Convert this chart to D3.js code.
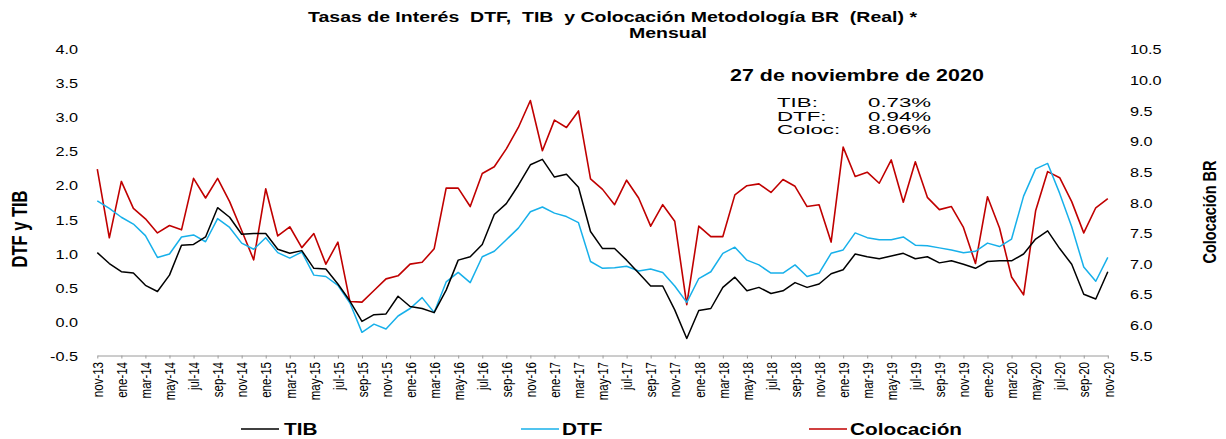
<!DOCTYPE html>
<html>
<head>
<meta charset="utf-8">
<script src="https://cdn.jsdelivr.net/npm/d3@7/dist/d3.min.js"></script>
<style>
  html, body { margin: 0; padding: 0; background: #fff; }
  svg { display: block; }
  text { font-family: "Liberation Sans", Arial, sans-serif; fill: #000; white-space: pre; }
</style>
</head>
<body>
<svg id="chart" width="1226" height="439"></svg>
<script>
// ---------- DATA ----------
const categories = [
  "nov-13","dic-13",
  "ene-14","feb-14","mar-14","abr-14","may-14","jun-14","jul-14","ago-14","sep-14","oct-14","nov-14","dic-14",
  "ene-15","feb-15","mar-15","abr-15","may-15","jun-15","jul-15","ago-15","sep-15","oct-15","nov-15","dic-15",
  "ene-16","feb-16","mar-16","abr-16","may-16","jun-16","jul-16","ago-16","sep-16","oct-16","nov-16","dic-16",
  "ene-17","feb-17","mar-17","abr-17","may-17","jun-17","jul-17","ago-17","sep-17","oct-17","nov-17","dic-17",
  "ene-18","feb-18","mar-18","abr-18","may-18","jun-18","jul-18","ago-18","sep-18","oct-18","nov-18","dic-18",
  "ene-19","feb-19","mar-19","abr-19","may-19","jun-19","jul-19","ago-19","sep-19","oct-19","nov-19","dic-19",
  "ene-20","feb-20","mar-20","abr-20","may-20","jun-20","jul-20","ago-20","sep-20","oct-20","nov-20"
];

const tib = [
  1.01,0.85,0.73,0.71,0.53,0.44,0.68,1.12,1.13,1.24,1.67,1.53,1.28,1.29,1.29,1.06,1.00,1.04,0.78,0.77,
  0.55,0.30,0.00,0.10,0.11,0.37,0.22,0.19,0.13,0.46,0.90,0.95,1.13,1.57,1.73,2.00,2.30,2.38,2.12,2.16,
  1.97,1.32,1.07,1.07,0.90,0.71,0.52,0.52,0.17,-0.25,0.16,0.19,0.50,0.65,0.45,0.50,0.41,0.45,0.57,0.50,
  0.55,0.70,0.76,0.99,0.95,0.92,0.96,1.00,0.92,0.95,0.86,0.89,0.84,0.78,0.88,0.89,0.89,0.99,1.21,1.33,
  1.07,0.84,0.40,0.33,0.73
];

const dtf = [
  1.77,1.66,1.53,1.43,1.26,0.94,0.99,1.24,1.27,1.17,1.51,1.38,1.15,1.06,1.23,1.01,0.93,1.02,0.68,0.66,
  0.53,0.27,-0.16,-0.04,-0.11,0.08,0.19,0.35,0.13,0.58,0.72,0.57,0.95,1.03,1.20,1.37,1.61,1.68,1.59,1.54,
  1.45,0.88,0.78,0.79,0.81,0.74,0.77,0.72,0.52,0.28,0.63,0.73,1.00,1.09,0.90,0.83,0.71,0.71,0.83,0.66,
  0.71,1.00,1.05,1.30,1.23,1.20,1.20,1.24,1.12,1.11,1.08,1.05,1.01,1.03,1.15,1.10,1.21,1.84,2.24,2.32,
  1.88,1.39,0.80,0.59,0.94
];

const colocacion = [
  8.54,7.42,8.34,7.90,7.73,7.50,7.62,7.55,8.39,8.07,8.39,8.01,7.54,7.06,8.22,7.45,7.60,7.26,7.49,6.99,
  7.35,6.38,6.37,6.56,6.75,6.80,6.99,7.02,7.24,8.23,8.23,7.93,8.47,8.58,8.87,9.22,9.66,8.84,9.34,9.22,
  9.49,8.38,8.21,7.96,8.36,8.07,7.61,7.96,7.69,6.33,7.61,7.44,7.44,8.12,8.27,8.30,8.16,8.37,8.26,7.93,
  7.96,7.35,8.90,8.42,8.49,8.31,8.69,8.00,8.66,8.08,7.88,7.93,7.59,7.00,8.09,7.58,6.78,6.49,7.86,8.50,
  8.40,8.01,7.50,7.91,8.06
];

const xTickLabels = categories.filter((d, i) => i % 2 === 0);
const leftTicks = [-0.5, 0.0, 0.5, 1.0, 1.5, 2.0, 2.5, 3.0, 3.5, 4.0];
const rightTicks = [5.5, 6.0, 6.5, 7.0, 7.5, 8.0, 8.5, 9.0, 9.5, 10.0, 10.5];

const titleText = "Tasas de Interés  DTF,  TIB  y Colocación Metodología BR  (Real) *";
const subtitleText = "Mensual";
const noteDate = "27 de noviembre de 2020";
const noteLabels = ["TIB:", "DTF:", "Coloc:"];
const noteValues = ["0.73%", "0.94%", "8.06%"];
const seriesNames = ["TIB", "DTF", "Colocación"];
const seriesColors = ["#000000", "#17b0ea", "#c00000"];

// ---------- CHART ----------
const svg = d3.select("#chart");
const SX = 1.3; // horizontal stretch of the original rendering

const x = d3.scalePoint().domain(categories).range([97.3, 1107.8]);
const yL = d3.scaleLinear().domain([-0.5, 4]).range([355.5, 49]);
const yR = d3.scaleLinear().domain([5.5, 10.5]).range([355.5, 49]);
const fmt = d => d.toFixed(1);

function txt(g, s, o) {
  const sx = o.sx == null ? SX : o.sx;
  const tr = o.rotate
    ? `translate(${o.x},${o.y}) rotate(${o.rotate}) scale(1,${sx})`
    : `translate(${o.x},${o.y}) scale(${sx},1)`;
  return g.append("text")
    .attr("transform", tr)
    .attr("text-anchor", o.anchor || "start")
    .attr("font-size", o.size)
    .attr("font-weight", o.weight || "normal")
    .text(s);
}

// Left axis
const gL = svg.append("g").attr("transform", "translate(80,0)")
  .call(d3.axisLeft(yL).tickValues(leftTicks).tickFormat(fmt).tickSize(0).tickPadding(1.5));
gL.select(".domain").remove();
gL.selectAll("text").attr("font-size", 12.5).attr("font-family", "Liberation Sans, Arial, sans-serif")
  .attr("transform", `scale(${SX},1)`).attr("dy", "0.38em");

// Right axis
const gR = svg.append("g").attr("transform", "translate(1128,0)")
  .call(d3.axisRight(yR).tickValues(rightTicks).tickFormat(fmt).tickSize(0).tickPadding(1.5));
gR.select(".domain").remove();
gR.selectAll("text").attr("font-size", 12.5).attr("font-family", "Liberation Sans, Arial, sans-serif")
  .attr("transform", `scale(${SX},1)`).attr("dy", "0.38em");

// Bottom axis
const gX = svg.append("g").attr("transform", "translate(0,355.5)")
  .call(d3.axisBottom(x).tickValues(xTickLabels).tickSize(3).tickSizeOuter(0));
gX.select(".domain").attr("stroke", "#9a9a9a").attr("stroke-width", 1);
gX.selectAll(".tick line").attr("stroke", "#9a9a9a");
gX.selectAll("text")
  .attr("font-size", 11.5).attr("font-family", "Liberation Sans, Arial, sans-serif")
  .attr("text-anchor", "end")
  .attr("transform", `rotate(-90) scale(1,${SX})`)
  .attr("x", -6.5).attr("y", 0).attr("dy", "0.35em");

// Lines
const lineL = d3.line().x((d, i) => x(categories[i])).y(d => yL(d));
const lineR = d3.line().x((d, i) => x(categories[i])).y(d => yR(d));

svg.append("path").datum(colocacion).attr("fill", "none").attr("stroke", seriesColors[2])
  .attr("stroke-width", 1.6).attr("stroke-linejoin", "round").attr("d", lineR);
svg.append("path").datum(dtf).attr("fill", "none").attr("stroke", seriesColors[1])
  .attr("stroke-width", 1.5).attr("stroke-linejoin", "round").attr("d", lineL);
svg.append("path").datum(tib).attr("fill", "none").attr("stroke", seriesColors[0])
  .attr("stroke-width", 1.5).attr("stroke-linejoin", "round").attr("d", lineL);

// Titles
txt(svg, titleText, { x: 612.5, y: 22, size: 15, weight: "bold", anchor: "middle" });
txt(svg, subtitleText, { x: 668, y: 38, size: 15, weight: "bold", anchor: "middle" });

// Axis titles
txt(svg, "DTF y TIB", { x: 27, y: 229, size: 16.5, weight: "bold", anchor: "middle", rotate: -90 });
txt(svg, "Colocación BR", { x: 1216, y: 212, size: 14.5, weight: "bold", anchor: "middle", rotate: -90 });

// Annotation
txt(svg, noteDate, { x: 730, y: 81, size: 16.5, weight: "bold" });
const noteY = [106.5, 120.5, 134];
noteLabels.forEach((l, i) => {
  txt(svg, l, { x: 777, y: noteY[i], size: 13.5, sx: 1.65 });
  txt(svg, noteValues[i], { x: 868, y: noteY[i], size: 13.5, sx: 1.65 });
});

// Legend
const legendLineX = [241, 521, 809];
const legendTextX = [284, 562, 850];
seriesNames.forEach((n, i) => {
  svg.append("line").attr("x1", legendLineX[i]).attr("x2", legendLineX[i] + 38)
    .attr("y1", 429).attr("y2", 429).attr("stroke", seriesColors[i]).attr("stroke-width", 1.5);
  txt(svg, n, { x: legendTextX[i], y: 435, size: 16, weight: "bold" });
});
</script>
</body>
</html>
